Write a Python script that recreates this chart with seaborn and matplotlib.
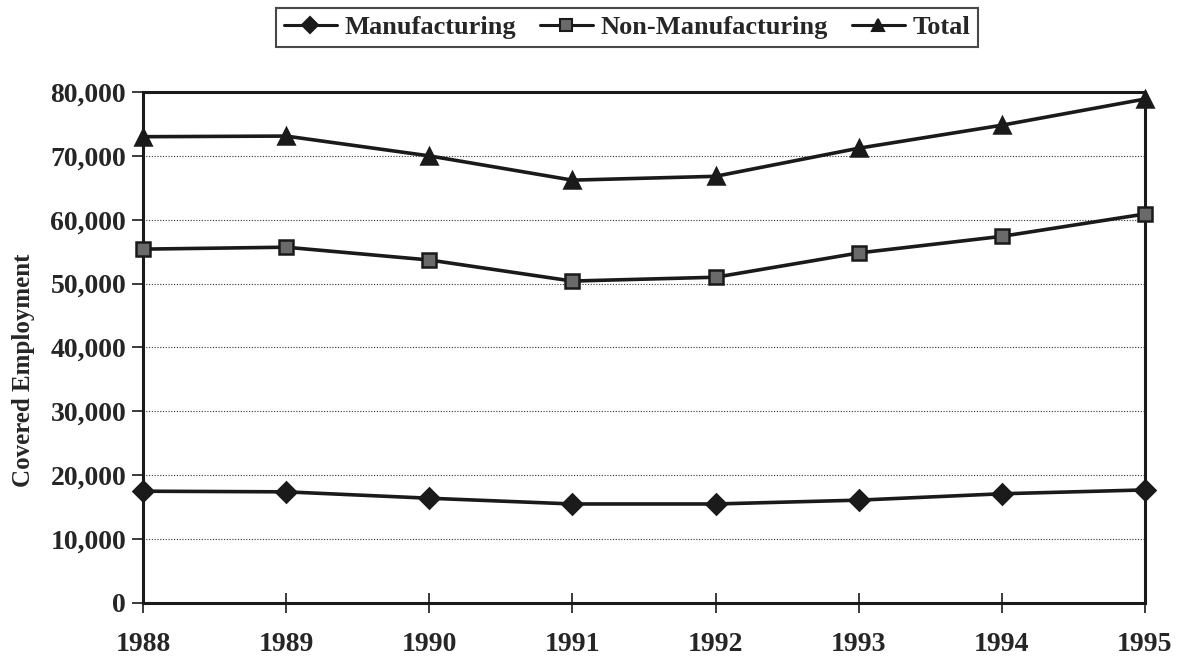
import matplotlib
matplotlib.use("Agg")
import matplotlib.pyplot as plt
from matplotlib.lines import Line2D
import seaborn as sns
import pandas as pd

years = [1988, 1989, 1990, 1991, 1992, 1993, 1994, 1995]
manufacturing = [17500, 17400, 16400, 15500, 15500, 16100, 17100, 17700]
non_manufacturing = [55400, 55700, 53700, 50400, 51000, 54800, 57400, 60900]
total = [73000, 73100, 70000, 66200, 66800, 71200, 74800, 78900]
series_names = ["Manufacturing", "Non-Manufacturing", "Total"]
y_ticks = [0, 10000, 20000, 30000, 40000, 50000, 60000, 70000, 80000]

df = pd.DataFrame({
    "Year": years * 3,
    "Value": manufacturing + non_manufacturing + total,
    "Series": sum([[n] * len(years) for n in series_names], []),
})

sns.set_theme(style="white")
plt.rcParams["font.family"] = ["Liberation Serif", "DejaVu Serif"]
plt.rcParams["font.weight"] = "bold"

fig = plt.figure(figsize=(11.81, 6.6), dpi=100)
ax = fig.add_axes([0.121, 0.0864, 0.8485, 0.7742])

markers = {"Manufacturing": "D", "Non-Manufacturing": "s", "Total": "^"}
sizes = {"Manufacturing": 10, "Non-Manufacturing": 10, "Total": 11}
faces = {"Manufacturing": "#1a1a1a", "Non-Manufacturing": "#6a6a6a", "Total": "#1a1a1a"}

handles = []
for name in series_names:
    sub = df[df["Series"] == name]
    sns.lineplot(data=sub, x="Year", y="Value", ax=ax, color="#1a1a1a",
                 linewidth=2.6, marker=markers[name], markersize=sizes[name],
                 markerfacecolor=faces[name], markeredgecolor="#1a1a1a",
                 markeredgewidth=1.8, clip_on=False, zorder=5, legend=False)
    handles.append(Line2D([], [], color="#1a1a1a", linewidth=2.2,
                          marker=markers[name], markersize=sizes[name] - 2,
                          markerfacecolor=faces[name], markeredgecolor="#1a1a1a",
                          markeredgewidth=1.5, label=name))

ax.set_xlim(1988, 1995)
ax.set_ylim(0, 80000)
ax.set_xticks(years)
ax.set_xticklabels([str(y) for y in years], fontsize=20, fontweight="bold")
ax.set_yticks(y_ticks)
ax.set_yticklabels([f"{v:,}" for v in y_ticks], fontsize=20, fontweight="bold")
ax.set_xlabel("")
ax.set_ylabel("Covered Employment", fontsize=18, fontweight="bold")
ax.yaxis.set_label_coords(-0.108, 0.455)

for y in y_ticks[1:-1]:
    ax.axhline(y, color="#333333", linestyle=(0, (1, 1.5)), linewidth=0.8, zorder=1)

for s in ax.spines.values():
    s.set_visible(True)
    s.set_color("#1a1a1a")
    s.set_linewidth(2.2)

ax.tick_params(axis="x", direction="inout", length=14, width=1.2, color="#1a1a1a",
               pad=14, bottom=True)
ax.tick_params(axis="y", direction="out", length=8, width=1.2, color="#1a1a1a",
               pad=4, left=True)

leg = fig.legend(handles=handles, loc="upper center", bbox_to_anchor=(0.531, 0.988),
                 ncol=3, frameon=True, fontsize=19, handlelength=2.0,
                 handletextpad=0.3, columnspacing=0.9, borderpad=0.3,
                 borderaxespad=0.0, fancybox=False, edgecolor="#1a1a1a")
leg.get_frame().set_linewidth(1.5)
for t in leg.get_texts():
    t.set_fontweight("bold")

fig.savefig("out.png", dpi=100, facecolor="white")
